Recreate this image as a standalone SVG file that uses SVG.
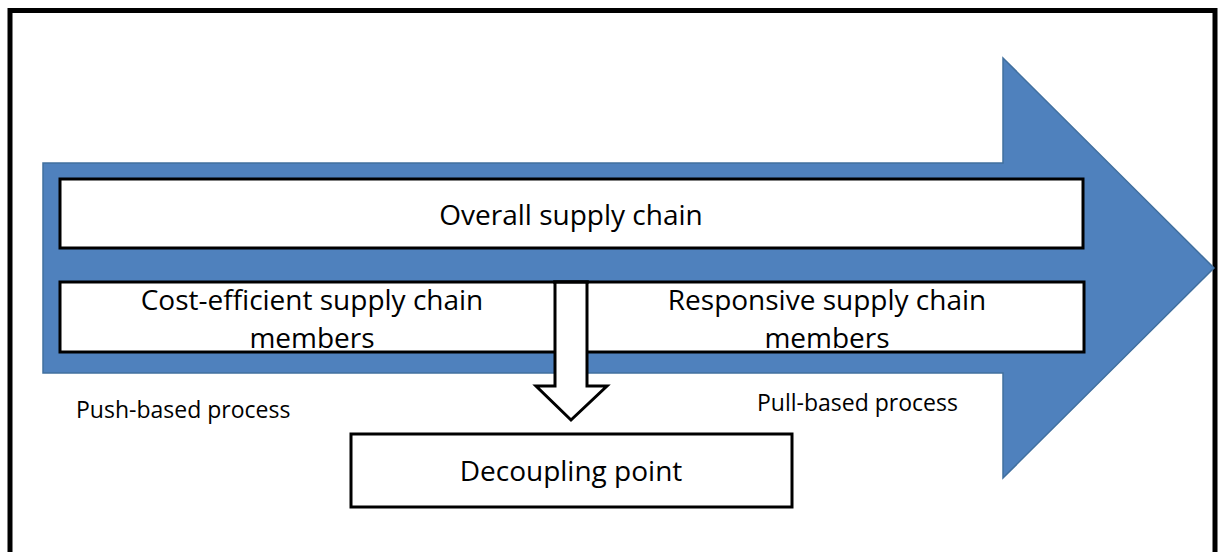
<svg xmlns="http://www.w3.org/2000/svg" width="1220" height="552" viewBox="0 0 1220 552">
  <style>
    .box { fill: #ffffff; stroke: #000000; stroke-width: 3; }
    .lbl { font-family: "Open Sans", Lato, "Liberation Sans", sans-serif; fill: #000000; text-anchor: middle; }
    .big { font-size: 28px; }
    .small { font-size: 23px; text-anchor: start; }
  </style>
  <rect width="1220" height="552" fill="#ffffff"/>
  <!-- outer frame -->
  <rect x="10" y="10.5" width="1205" height="560" fill="none" stroke="#000000" stroke-width="5"/>

  <!-- broad flow arrow -->
  <g id="flow-arrow">
    <polygon points="43,163 1003,163 1003,58 1214,268 1003,478 1003,373 43,373" fill="#4F81BD" stroke="#41709F" stroke-width="1.5"/>
  </g>

  <g id="overall">
    <rect class="box" x="60" y="179" width="1023" height="69"/>
    <text class="lbl big" x="571" y="225">Overall supply chain</text>
  </g>

  <g id="members">
    <rect class="box" x="60" y="282" width="1024" height="70"/>
    <text class="lbl big" x="312" y="310">Cost-efficient supply chain</text>
    <text class="lbl big" x="312" y="348">members</text>
    <text class="lbl big" x="827" y="310">Responsive supply chain</text>
    <text class="lbl big" x="827" y="348">members</text>
  </g>

  <g id="connectors">
    <polygon points="555,282 587,282 587,386 607,386 571,420 536,386 555,386" fill="#ffffff" stroke="#000000" stroke-width="3" stroke-linejoin="miter"/>
    <line x1="553" y1="282" x2="589" y2="282" stroke="#000000" stroke-width="3"/>
  </g>

  <g id="push">
    <text class="lbl small" x="76" y="418">Push-based process</text>
  </g>
  <g id="pull">
    <text class="lbl small" x="757" y="411">Pull-based process</text>
  </g>

  <g id="decoupling">
    <rect class="box" x="351" y="434" width="441" height="73"/>
    <text class="lbl big" x="571" y="481">Decoupling point</text>
  </g>
</svg>
